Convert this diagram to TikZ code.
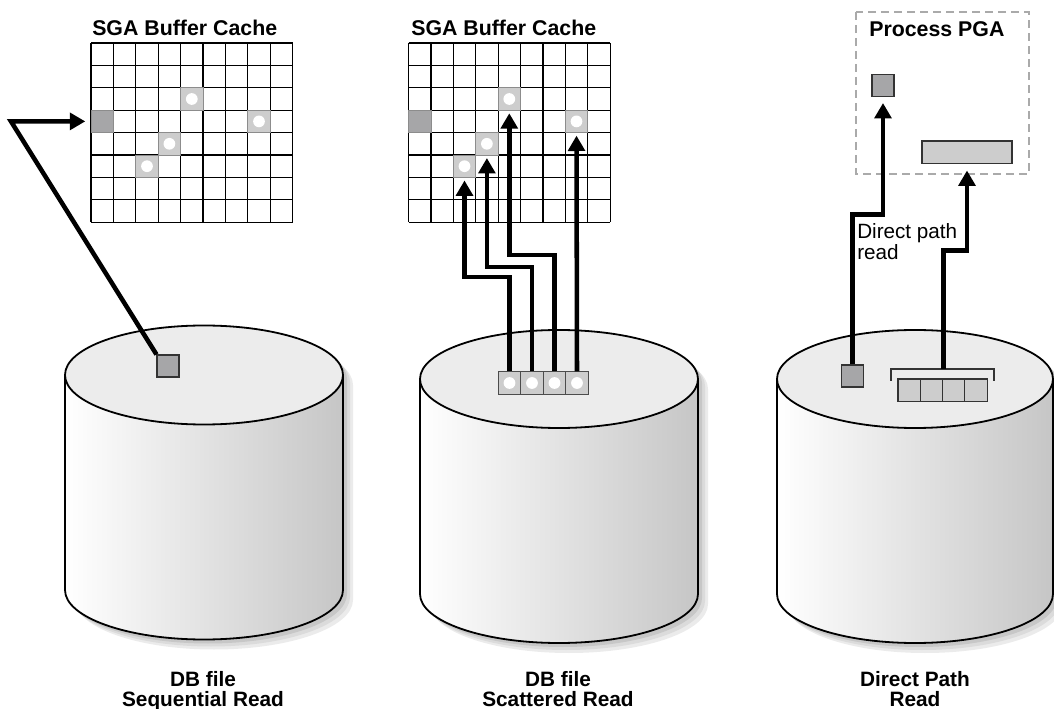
\documentclass[tikz,border=0pt]{standalone}
\usepackage{fontspec}
\setmainfont{Liberation Sans}
\usetikzlibrary{arrows.meta,positioning,calc}

\definecolor{topgray}{HTML}{ECECEC}
\definecolor{sidegray}{HTML}{C6C6C6}
\definecolor{darkcell}{HTML}{A6A6A8}
\definecolor{lightcell}{HTML}{CDCDCD}
\definecolor{dashgray}{HTML}{AAAAAA}

\tikzset{
  gridline/.style={line width=0.9pt},
  cylline/.style={line width=1.35pt},
  hit/.style={draw=black!45, line width=0.6pt, fill=lightcell, minimum size=16.8pt, inner sep=0pt,
    path picture={\fill[white] (path picture bounding box.center) circle[radius=4.4pt];}},
  dkcell/.style={draw=black!45, line width=0.6pt, fill=darkcell, minimum size=16.8pt, inner sep=0pt},
  blk/.style={draw=black!80, line width=0.8pt, fill=darkcell, minimum size=16.5pt, inner sep=0pt},
  slot/.style={draw=black!80, line width=0.8pt, fill=lightcell, minimum width=16.7pt, minimum height=17.2pt, inner sep=0pt},
  arr/.style={line width=3.4pt, -{Triangle[length=11.5pt,width=12.5pt]}},
  ttl/.style={font=\bfseries\fontsize{16}{18}\selectfont, inner sep=0pt},
  lbl/.style={font=\bfseries\fontsize{15.6}{15}\selectfont, inner sep=0pt, align=center},
  note/.style={font=\fontsize{15.5}{15.75}\selectfont, inner sep=0pt, align=left},
  pgabox/.style={draw=dashgray, line width=1.1pt, dash pattern=on 6pt off 3.75pt},
  brkline/.style={draw=black!80, line width=1pt}
}

% disk: centre x, top y, bottom y, x radius, y radius
\newcommand{\dbcyl}[5]{%
  \foreach \dx/\gv in {10/8,7/14,4/22}
    \fill[black!\gv] (#1-#4+\dx,#2+\dx) -- (#1-#4+\dx,#3+\dx)
      arc[start angle=180,end angle=0,x radius=#4,y radius=#5] -- (#1+#4+\dx,#2+\dx)
      arc[start angle=0,end angle=-180,x radius=#4,y radius=#5] -- cycle;
  \shade[left color=white, right color=sidegray] (#1-#4,#2) -- (#1-#4,#3)
    arc[start angle=180,end angle=0,x radius=#4,y radius=#5] -- (#1+#4,#2) -- cycle;
  \draw[cylline] (#1-#4,#2) -- (#1-#4,#3)
    arc[start angle=180,end angle=0,x radius=#4,y radius=#5] -- (#1+#4,#2);
  \filldraw[cylline, fill=topgray] (#1,#2) ellipse[x radius=#4,y radius=#5];
}

% 9x8 buffer grid, left edge x
\newcommand{\bufgrid}[1]{%
  \foreach \i in {0,...,9}
    \draw[gridline] (#1+22.4*\i,43) -- (#1+22.4*\i,222.2);
  \foreach \j in {0,...,8}
    \draw[gridline] (#1,43+22.4*\j) -- (#1+201.6,43+22.4*\j);
}

\begin{document}
\begin{tikzpicture}[x=0.75pt,y=-0.75pt]
    \useasboundingbox (0,0) rectangle (1054,709);

    % disks
    \dbcyl{204}{375}{590}{139}{49.5}
    \dbcyl{559}{379}{594}{139}{49}
    \dbcyl{915}{379}{594}{138}{49}

    \node[lbl, anchor=north] (lseq) at (203,671) {DB file\\Sequential Read};
    \node[lbl, anchor=north] (lsct) at (558,671) {DB file\\Scattered Read};
    \node[lbl, anchor=north] (ldir) at (915,671) {Direct Path\\Read};

    % SGA buffer caches
    \bufgrid{91}
    \bufgrid{408.5}
    \node[ttl, anchor=base west] (sga1) at (92,36) {SGA Buffer Cache};
    \node[ttl, anchor=base west] (sga2) at (411,36) {SGA Buffer Cache};

    % sequential read
    \node[dkcell] (dk1) at (102.2,121.4) {};
    \node[hit] (a1) at (191.8,99) {};
    \node[hit] (a2) at (259,121.4) {};
    \node[hit] (a3) at (169.4,143.8) {};
    \node[hit] (a4) at (147,166.2) {};
    \node[blk] (sq1) at (168,366) {};
    \coordinate (bend) at (11,121.4);
    \draw[arr, shorten >=4pt] (sq1.north west) -- (bend) -- (dk1.west);

    % scattered read
    \node[dkcell] (dk2) at (419.7,121.4) {};
    \node[hit] (b1) at (464.5,166.2) {};
    \node[hit] (b2) at (486.9,143.8) {};
    \node[hit] (b3) at (509.3,99) {};
    \node[hit] (b4) at (576.5,121.4) {};
    \foreach \k in {1,...,4}
        \node[hit, draw=black!70, minimum size=16.9pt] (s\k) at (487+22.5*\k,383) {};
    \coordinate (j1) at (0,277);
    \coordinate (j2) at (0,267);
    \coordinate (j3) at (0,255);
    \draw[arr, shorten >=2pt] (s1.north) -- (s1.north |- j1) -| (b1.south);
    \draw[arr, shorten >=2pt] (s2.north) -- (s2.north |- j2) -| (b2.south);
    \draw[arr, shorten >=2pt] (s3.north) -- (s3.north |- j3) -| (b3.south);
    \draw[arr, shorten >=2pt] (s4.north) -- (b4.south);

    % direct path read
    \draw[pgabox] (856,12) rectangle (1029,174);
    \node[ttl, anchor=base west] (pga) at (869,36.7) {Process PGA};
    \node[blk] (pga1) at (883,85.5) {};
    \node[slot, minimum width=67.5pt] (pga2) at (967,152.5) {};
    \node[blk] (dp1) at (852.5,376) {};
    \foreach \k in {1,...,4}
        \node[slot] (d\k) at (886.9+22.25*\k,390.5) {};
    \draw[brkline] (891,381) -- (891,369) -- (994,369) -- (994,381);
    \coordinate (brk) at (943.5,369);
    \coordinate (jp1) at (0,214.3);
    \coordinate (jp2) at (0,250.7);
    \draw[arr, shorten >=4.5pt] (dp1.north) -- (dp1.north |- jp1) -| (pga1.south);
    \draw[arr, shorten >=4.5pt] (brk) -- (brk |- jp2) -| (pga2.south);
    \node[note, anchor=north west] (dpr) at (857,223) {Direct path\\read};
\end{tikzpicture}
\end{document}
